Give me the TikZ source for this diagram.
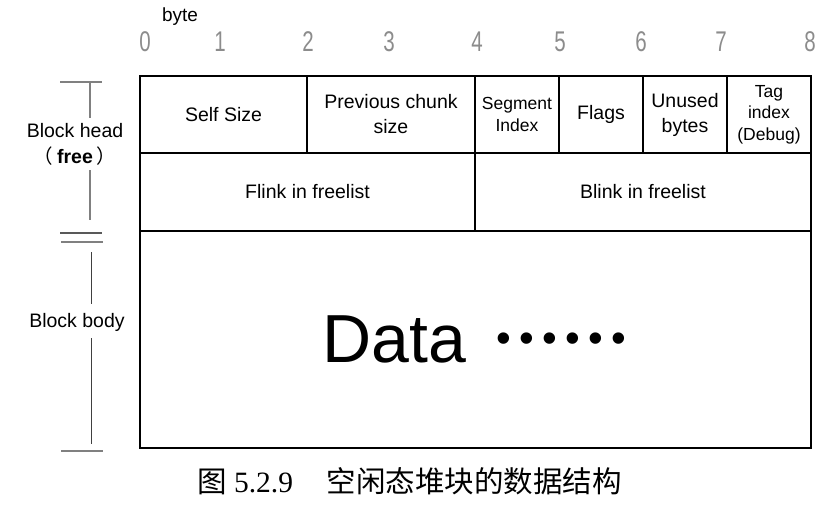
\documentclass[tikz,border=0pt]{standalone}
\usepackage{fontspec}
\setmainfont{Liberation Sans}
\newfontfamily\cjk{Noto Sans CJK SC}
\newfontfamily\serifnum{Liberation Serif}
\usepackage{graphicx}
\newcommand\narrowdig[1]{\scalebox{0.72}[1]{#1}}
\newcommand\gapdot{\hspace{8.3pt}•}
\tikzset{
  cell/.style={draw=black, line width=1.1pt, anchor=north west, inner sep=0pt, outer sep=0pt, align=center},
  fbig/.style={font=\fontsize{19.5}{25}\selectfont},
  fsmall/.style={font=\fontsize{17.5}{21.5}\selectfont},
  num/.style={inner sep=0pt, text=black!45, font=\fontsize{28.5}{28.5}\selectfont},
  brk/.style={draw=black!50, line width=1.3pt},
  lbl/.style={inner sep=0pt, align=center, font=\fontsize{19.5}{26}\selectfont},
  captxt/.style={inner sep=0pt}
}
\begin{document}
\begin{tikzpicture}[x=1pt,y=-1pt]
\useasboundingbox (0,0) rectangle (827,511);

% byte scale
\node[inner sep=0pt, font=\fontsize{19}{19}\selectfont] (byte) at (180,16.5) {byte};
\node[num] (n0) at (145,42) {\narrowdig{0}};
\node[num] (n1) at (220,42) {\narrowdig{1}};
\node[num] (n2) at (308,42) {\narrowdig{2}};
\node[num] (n3) at (389,42) {\narrowdig{3}};
\node[num] (n4) at (477,42) {\narrowdig{4}};
\node[num] (n5) at (560,42) {\narrowdig{5}};
\node[num] (n6) at (641,42) {\narrowdig{6}};
\node[num] (n7) at (721,42) {\narrowdig{7}};
\node[num] (n8) at (810,42) {\narrowdig{8}};

% row 1
\node[cell, fbig, minimum width=167pt, minimum height=77pt] (selfsize) at (140,76) {Self Size};
\node[cell, fbig, minimum width=168pt, minimum height=77pt] (prev) at (307,76) {Previous chunk\\size};
\node[cell, fsmall, minimum width=84pt, minimum height=77pt] (seg) at (475,76) {Segment\\Index};
\node[cell, fbig, minimum width=84pt, minimum height=77pt] (flags) at (559,76) {Flags};
\node[cell, fbig, minimum width=84pt, minimum height=77pt] (unused) at (643,76) {Unused\\bytes};
\node[cell, fsmall, minimum width=84pt, minimum height=77pt] (tag) at (727,76) {Tag\\index\\(Debug)};
% row 2
\node[cell, fbig, minimum width=335pt, minimum height=78pt] (flink) at (140,153) {Flink in freelist};
\node[cell, fbig, minimum width=336pt, minimum height=78pt] (blink) at (475,153) {Blink in freelist};
% data
\node[cell, minimum width=671pt, minimum height=217pt] (data) at (140,231) {};
\node[inner sep=0pt, font=\fontsize{68}{68}\selectfont, anchor=base west] (datatxt) at (322,362) {Data\hspace{31pt}{\fontsize{42}{42}\selectfont\raisebox{9.7pt}{•\gapdot\gapdot\gapdot\gapdot\gapdot}}};

% left brackets
\node[lbl] (headlbl) at (75,144) {Block head\\{\cjk （}\hspace{4pt}\textbf{free}\hspace{4pt}{\cjk ）}};
\node[lbl] (bodylbl) at (77,322) {Block body};
\coordinate (ht1) at (60,82);
\coordinate (ht2) at (102,82);
\coordinate (hv1) at (90,82);
\coordinate (hv2) at (90,118);
\coordinate (hv3) at (90,170);
\coordinate (hv4) at (90,220);
\coordinate (d1a) at (60,233);
\coordinate (d1b) at (102,233);
\coordinate (d2a) at (61,242);
\coordinate (d2b) at (103,242);
\coordinate (bv1) at (91,252);
\coordinate (bv2) at (91,304);
\coordinate (bv3) at (91,338);
\coordinate (bv4) at (91,444);
\coordinate (bt1) at (61,451);
\coordinate (bt2) at (103,451);
\draw[brk] (ht1) -- (ht2);
\draw[brk] (hv1) -- (hv2);
\draw[brk] (hv3) -- (hv4);
\draw[brk, draw=black!65] (d1a) -- (d1b);
\draw[brk] (d2a) -- (d2b);
\draw[brk, draw=black!75, line width=1pt] (bv1) -- (bv2);
\draw[brk, draw=black!75, line width=1pt] (bv3) -- (bv4);
\draw[brk] (bt1) -- (bt2);

% caption
\node[captxt, font=\cjk\fontsize{29.5}{30}\selectfont] (figch) at (212,481.5) {图};
\node[captxt, font=\serifnum\fontsize{29.5}{30}\selectfont] (fignum) at (263.5,483) {5.2.9};
\node[captxt, font=\cjk\fontsize{29.5}{30}\selectfont] (figtitle) at (474,481.5) {空闲态堆块的数据结构};
\end{tikzpicture}
\end{document}
